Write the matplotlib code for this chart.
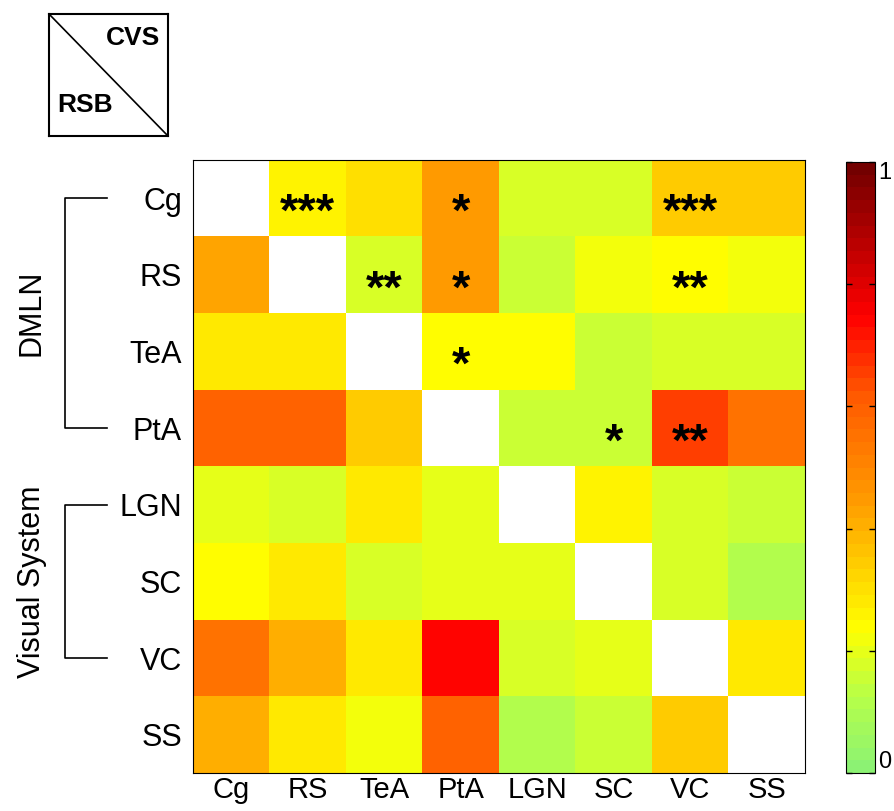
import numpy as np
import matplotlib
matplotlib.use("Agg")
import matplotlib.pyplot as plt
from matplotlib.colors import LinearSegmentedColormap
from matplotlib.transforms import blended_transform_factory

plt.rcParams['font.family'] = ['Liberation Sans', 'DejaVu Sans']

# regions (rows = RSB, columns = CVS)
regions = ["Cg", "RS", "TeA", "PtA", "LGN", "SC", "VC", "SS"]

nan = np.nan
row_cg  = [nan, 0.26, 0.30, 0.45, 0.17, 0.17, 0.35, 0.35]
row_rs  = [0.42, nan, 0.17, 0.45, 0.16, 0.21, 0.23, 0.21]
row_tea = [0.28, 0.28, nan, 0.24, 0.24, 0.15, 0.18, 0.18]
row_pta = [0.60, 0.60, 0.35, nan, 0.15, 0.15, 0.65, 0.55]
row_lgn = [0.19, 0.17, 0.28, 0.20, nan, 0.25, 0.17, 0.15]
row_sc  = [0.24, 0.28, 0.18, 0.20, 0.20, nan, 0.17, 0.12]
row_vc  = [0.55, 0.40, 0.28, 0.73, 0.18, 0.20, nan, 0.29]
row_ss  = [0.40, 0.28, 0.21, 0.60, 0.12, 0.15, 0.35, nan]

# significance marks: (row, col, label)
stars = [(0, 1, "***"), (0, 3, "*"), (0, 6, "***"),
         (1, 2, "**"), (1, 3, "*"), (1, 6, "**"),
         (2, 3, "*"),
         (3, 5, "*"), (3, 6, "**")]

groups = [("DMLN", 0, 3), ("Visual System", 4, 6)]

data = np.array([row_cg, row_rs, row_tea, row_pta, row_lgn, row_sc, row_vc, row_ss])

cmap = LinearSegmentedColormap.from_list("gyr", [
    (0.00, (0.55, 0.95, 0.45)),
    (0.12, (0.72, 1.00, 0.28)),
    (0.23, (1.00, 1.00, 0.00)),
    (0.45, (1.00, 0.60, 0.00)),
    (0.62, (1.00, 0.35, 0.00)),
    (0.75, (1.00, 0.00, 0.00)),
    (1.00, (0.45, 0.00, 0.00)),
], N=48)
cmap.set_bad("white")

fig = plt.figure(figsize=(8.94, 8.11), dpi=100)
W, H = 894, 811

def pix(x0, y0, x1, y1):
    return [x0 / W, 1 - y1 / H, (x1 - x0) / W, (y1 - y0) / H]

ax = fig.add_axes(pix(193, 160, 805, 773))
im = ax.imshow(np.ma.masked_invalid(data), cmap=cmap, vmin=0, vmax=1,
               aspect="auto", interpolation="nearest")
ax.set_xticks(range(len(regions)))
ax.set_xticklabels(regions, fontsize=21)
ax.set_yticks(range(len(regions)))
ax.set_yticklabels(regions, fontsize=22)
ax.tick_params(axis="y", length=0, pad=8)
ax.tick_params(axis="x", length=0, pad=2)
for s in ax.spines.values():
    s.set_linewidth(0.8)

for r, c, lab in stars:
    ax.text(c, r + 0.2, lab, ha="center", va="center", fontsize=34,
            fontweight="bold", color="black")

# group brackets on the left
tr = blended_transform_factory(fig.transFigure, ax.transData)
bx0, bx1 = 65 / W, 107 / W
for name, r0, r1 in groups:
    ax.plot([bx1, bx0, bx0, bx1], [r0, r0, r1, r1], color="black", lw=1.2,
            transform=tr, clip_on=False)
    ax.text(32 / W, (r0 + r1) / 2, name, rotation=90, ha="center", va="center",
            fontsize=22, transform=tr)

# colorbar
cax = fig.add_axes(pix(846, 162, 875, 773))
cb = fig.colorbar(im, cax=cax, ticks=[0, 0.2, 0.4, 0.6, 0.8, 1.0])
cb.ax.set_yticklabels(["0", "", "", "", "", "1"], fontsize=17)
cb.ax.tick_params(direction="in", length=4, width=1, left=True, right=True, pad=2)
cb.outline.set_linewidth(0.8)
cb.ax.get_yticklabels()[0].set_va("bottom")
cb.ax.get_yticklabels()[-1].set_va("top")

# key box in the top-left
kax = fig.add_axes(pix(49, 14, 168, 136))
kax.plot([0, 1], [1, 0], color="black", lw=1.2)
kax.set_xlim(0, 1)
kax.set_ylim(0, 1)
kax.set_xticks([])
kax.set_yticks([])
for s in kax.spines.values():
    s.set_linewidth(1.5)
kax.text(0.93, 0.80, "CVS", ha="right", va="center", fontsize=19, fontweight="bold")
kax.text(0.07, 0.25, "RSB", ha="left", va="center", fontsize=19, fontweight="bold")

fig.savefig("out.png", dpi=100)
